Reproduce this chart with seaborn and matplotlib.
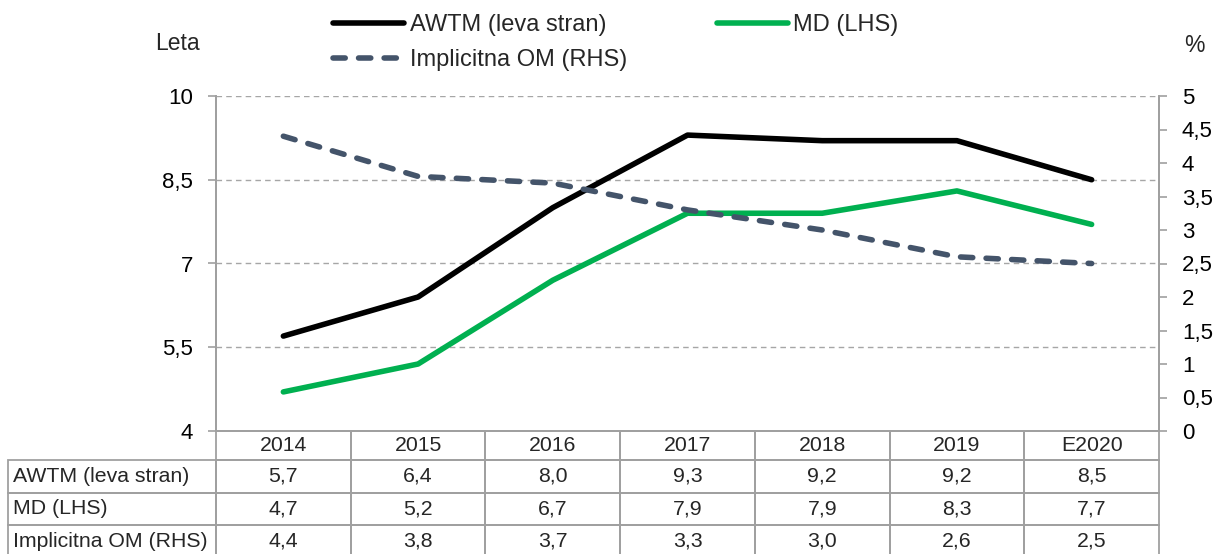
import matplotlib
matplotlib.use("Agg")
import matplotlib.pyplot as plt
import seaborn as sns
import pandas as pd
from matplotlib.ticker import FuncFormatter, MultipleLocator, FixedLocator
from matplotlib.lines import Line2D

years = ["2014", "2015", "2016", "2017", "2018", "2019", "E2020"]
awtm = [5.7, 6.4, 8.0, 9.3, 9.2, 9.2, 8.5]
md = [4.7, 5.2, 6.7, 7.9, 7.9, 8.3, 7.7]
om = [4.4, 3.8, 3.7, 3.3, 3.0, 2.6, 2.5]
labels = ["AWTM (leva stran)", "MD (LHS)", "Implicitna OM (RHS)"]

sns.set_theme(style="white")
plt.rcParams['font.family'] = ['Liberation Sans', 'DejaVu Sans']

C_BLACK = "#000000"
C_GREEN = "#00B050"
C_DASH = "#44546A"
C_GRID = "#A6A6A6"
C_AX = "#A0A0A0"

df = pd.DataFrame({"x": range(len(years)), "awtm": awtm, "md": md, "om": om})

fig = plt.figure(figsize=(12.16, 5.54), dpi=100)
ax = fig.add_axes([216/1216, 1-431/554, (1159-216)/1216, (431-96)/554])
ax2 = ax.twinx()

lw = 4.0
DASH = (2.2, 2.4)
sns.lineplot(data=df, x="x", y="awtm", ax=ax, color=C_BLACK, linewidth=lw,
             solid_capstyle="round", label=labels[0], legend=False)
sns.lineplot(data=df, x="x", y="md", ax=ax, color=C_GREEN, linewidth=lw,
             solid_capstyle="round", label=labels[1], legend=False)
sns.lineplot(data=df, x="x", y="om", ax=ax2, color=C_DASH, linewidth=lw,
             dashes=False, label=labels[2], legend=False)
ln = ax2.get_lines()[0]
ln.set_dashes(DASH)
ln.set_dash_capstyle("round")

ax.set_xlim(-0.5, len(years) - 0.5)
ax.set_ylim(4, 10)
ax2.set_ylim(0, 5)
ax.yaxis.set_major_locator(FixedLocator([4, 5.5, 7, 8.5, 10]))
ax2.yaxis.set_major_locator(MultipleLocator(0.5))
fmt = FuncFormatter(lambda v, p: (("%g" % v).replace(".", ",")))
ax.yaxis.set_major_formatter(fmt)
ax2.yaxis.set_major_formatter(fmt)
ax.set_xticks([])
ax.set_xlabel("")
ax.set_ylabel("")
ax2.set_ylabel("")

for a in (ax, ax2):
    a.tick_params(axis="y", which="major", direction="out", length=6, width=1.2,
                  color=C_AX, labelsize=16, labelcolor="black", pad=10.5)
    a.set_facecolor("none")
    for s in a.spines.values():
        s.set_color(C_AX)
        s.set_linewidth(1.3)
    a.spines["top"].set_visible(False)
    a.grid(False)
ax.set_zorder(ax2.get_zorder() - 1)
ax2.patch.set_visible(False)

for v in [5.5, 7, 8.5, 10]:
    ax.axhline(v, color=C_GRID, linestyle=(0, (4, 3)), linewidth=1, zorder=0)

# table
cell_text = [[labels[0]] + [("%.1f" % v).replace(".", ",") for v in awtm],
             [labels[1]] + [("%.1f" % v).replace(".", ",") for v in md],
             [labels[2]] + [("%.1f" % v).replace(".", ",") for v in om]]
ax_w = 1159 - 216
ax_h = 431 - 96
first_w = 216 - 8
col_w = ax_w / len(years)
total_w = first_w + ax_w
widths = [first_w / total_w] + [col_w / total_w] * len(years)
head_h = 29.0
row_h = 32.5
tot_h = head_h + 3 * row_h
tbl = ax.table(cellText=cell_text, colLabels=[""] + years, colWidths=widths,
               cellLoc="center",
               bbox=[(8 - 216) / ax_w, -tot_h / ax_h, total_w / ax_w, tot_h / ax_h])
tbl.auto_set_font_size(False)
tbl.set_fontsize(15.3)
for (r, c), cell in tbl.get_celld().items():
    cell.set_edgecolor(C_AX)
    cell.set_linewidth(1.3)
    cell.set_facecolor("none")
    cell.set_height(head_h if r == 0 else row_h)
    if r == 0 and c == 0:
        cell.visible_edges = ""
    if c == 0 and r > 0:
        cell.get_text().set_ha("left")
        cell._loc = "left"
        cell.PAD = 0.025
    cell.set_clip_on(False)

fig.text(200/1216, 1-43/554, "Leta", ha="right", va="center", fontsize=16.5)
fig.text(1194/1216, 1-45/554, "%", ha="center", va="center", fontsize=16.5)

h1 = Line2D([], [], color=C_BLACK, linewidth=lw, solid_capstyle="round")
h2 = Line2D([], [], color=C_GREEN, linewidth=lw, solid_capstyle="round")
h3 = Line2D([], [], color=C_DASH, linewidth=lw, dashes=DASH, dash_capstyle="round")
leg = fig.legend([h1, h3, h2], [labels[0], labels[2], labels[1]], ncol=2,
                 loc="upper left", bbox_to_anchor=(333/1216, 1 - 14/554), frameon=False,
                 fontsize=17, handlelength=3.0, handletextpad=0.25,
                 columnspacing=3.8, labelspacing=0.55, borderaxespad=0, borderpad=0)

fig.savefig("out.png", dpi=100)
